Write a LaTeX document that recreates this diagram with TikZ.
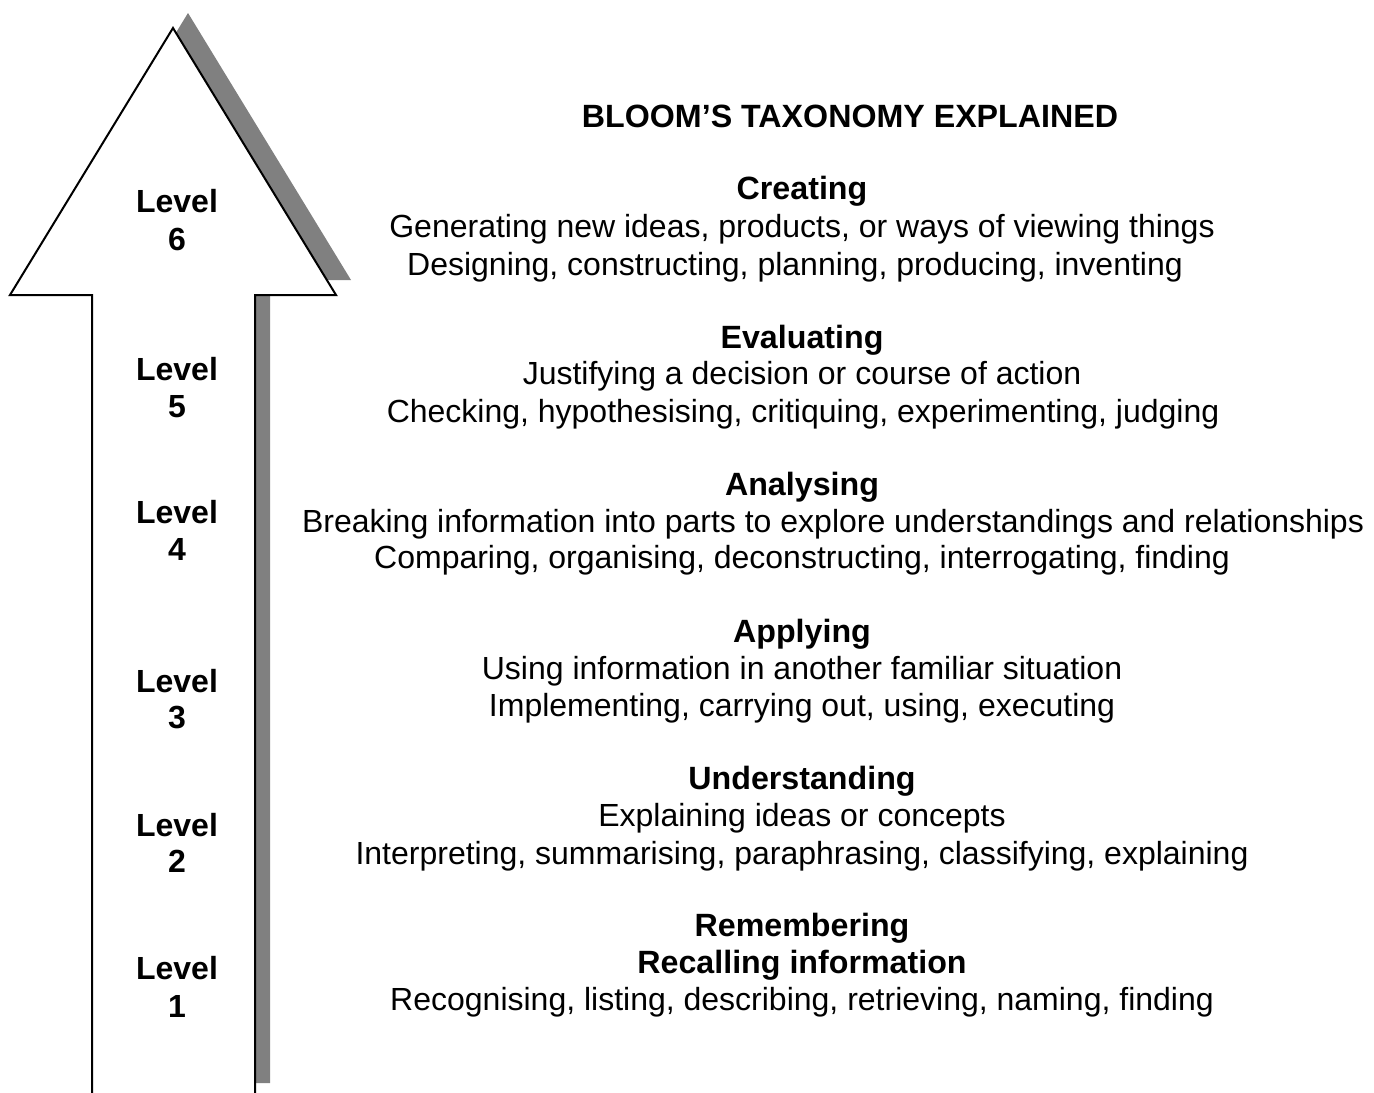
\documentclass[tikz,border=0pt]{standalone}
\usepackage{fontspec}
\setmainfont{Liberation Sans}
\begin{document}
\begin{tikzpicture}[x=0.5pt,y=-0.5pt,
  txt/.style={inner sep=0pt,anchor=base,font=\fontsize{16pt}{19pt}\selectfont},
  bold/.style={txt,font=\fontsize{16.1pt}{19pt}\selectfont\bfseries},
  lvl/.style={inner sep=0pt,anchor=base,font=\fontsize{16pt}{19pt}\selectfont\bfseries}]
\useasboundingbox (0,0) rectangle (1374,1092);
\begin{scope}
\clip (0,0) rectangle (1374,1092);
% shadow
\fill[black!50] (188,13) -- (351,280) -- (270,280) -- (270,1083) -- (107,1083) -- (107,280) -- (25,280) -- cycle;
% arrow
\draw[line width=1pt,fill=white,line join=miter] (173,28) -- (336,295) -- (255,295) -- (255,1110) -- (92,1110) -- (92,295) -- (10,295) -- cycle;
\end{scope}
% level labels
\node[lvl] (l6a) at (177,212) {Level};
\node[lvl] (l6b) at (177,250) {6};
\node[lvl] (l5a) at (177,380) {Level};
\node[lvl] (l5b) at (177,417) {5};
\node[lvl] (l4a) at (177,523) {Level};
\node[lvl] (l4b) at (177,560) {4};
\node[lvl] (l3a) at (177,692) {Level};
\node[lvl] (l3b) at (177,728) {3};
\node[lvl] (l2a) at (177,836) {Level};
\node[lvl] (l2b) at (177,872) {2};
\node[lvl] (l1a) at (177,979) {Level};
\node[lvl] (l1b) at (177,1017) {1};
% title
\node[bold] (title) at (850,127) {BLOOM’S TAXONOMY EXPLAINED};
% creating
\node[bold] (c0) at (802,199) {Creating};
\node[txt] (c1) at (802,237) {Generating new ideas, products, or ways of viewing things};
\node[txt] (c2) at (795,275) {Designing, constructing, planning, producing, inventing};
% evaluating
\node[bold] (e0) at (802,348) {Evaluating};
\node[txt] (e1) at (802,384) {Justifying a decision or course of action};
\node[txt] (e2) at (803,422) {Checking, hypothesising, critiquing, experimenting, judging};
% analysing
\node[bold] (a0) at (802,495) {Analysing};
\node[txt] (a1) at (833,532) {Breaking information into parts to explore understandings and relationships};
\node[txt] (a2) at (802,568) {Comparing, organising, deconstructing, interrogating, finding};
% applying
\node[bold] (p0) at (802,642) {Applying};
\node[txt] (p1) at (802,679) {Using information in another familiar situation};
\node[txt] (p2) at (802,716) {Implementing, carrying out, using, executing};
% understanding
\node[bold] (u0) at (802,789) {Understanding};
\node[txt] (u1) at (802,826) {Explaining ideas or concepts};
\node[txt] (u2) at (802,864) {Interpreting, summarising, paraphrasing, classifying, explaining};
% remembering
\node[bold] (r0) at (802,936) {Remembering};
\node[bold] (r1) at (802,973) {Recalling information};
\node[txt] (r2) at (802,1010) {Recognising, listing, describing, retrieving, naming, finding};
\end{tikzpicture}
\end{document}
